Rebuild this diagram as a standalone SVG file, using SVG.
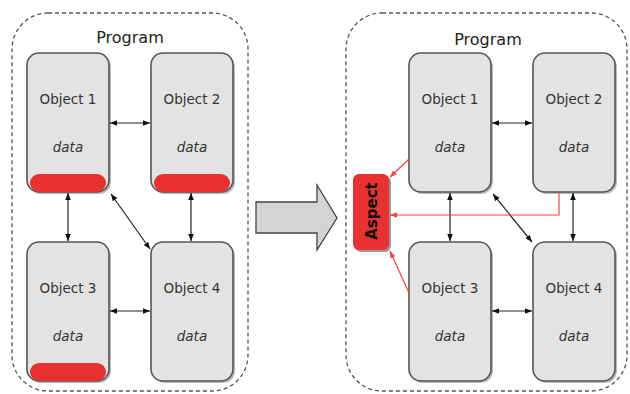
<svg xmlns="http://www.w3.org/2000/svg" width="630" height="394" viewBox="0 0 630 394">
<style>
.cont{fill:#fff;stroke:#555;stroke-width:1.3;stroke-dasharray:4 3}
.box{fill:#e3e3e3;stroke:#555;stroke-width:1.6}
.shadow{fill:#bbb}
.bar{fill:#e83232}
.title{font-family:"DejaVu Sans",Verdana,sans-serif;font-size:16px;fill:#222;text-anchor:middle}
.lbl{font-family:"DejaVu Sans",Verdana,sans-serif;font-size:13.5px;fill:#333;text-anchor:middle}
.dat{font-family:"DejaVu Sans",Verdana,sans-serif;font-size:13.5px;font-style:italic;fill:#333;text-anchor:middle}
.conn{stroke:#222;stroke-width:1.2;fill:none;marker-start:url(#ah);marker-end:url(#ah)}
.red{stroke:#f04545;stroke-width:1.2;fill:none;marker-end:url(#rh)}
</style>
<defs>
<marker id="ah" viewBox="0 0 10 10" refX="10" refY="5" markerWidth="7" markerHeight="7" markerUnits="userSpaceOnUse" orient="auto-start-reverse"><path d="M0,1 L10,5 L0,9 Z" fill="#111"/></marker>
<marker id="rh" viewBox="0 0 10 10" refX="10" refY="5" markerWidth="7" markerHeight="7" markerUnits="userSpaceOnUse" orient="auto"><path d="M0,1 L10,5 L0,9 Z" fill="#f04545"/></marker>
</defs>
<rect width="630" height="394" fill="#fff"/>

<g id="left-program">
<rect class="cont" x="12" y="13" width="236" height="378" rx="36"/>
<text class="title" x="130" y="43">Program</text>
</g>
<g id="right-program">
<rect class="cont" x="346" y="13" width="281" height="378" rx="36"/>
<text class="title" x="488" y="45">Program</text>
</g>

<g id="L-obj1">
<rect class="shadow" x="29" y="55" width="82" height="139" rx="12"/>
<rect class="box" x="27" y="53" width="82" height="139" rx="12"/>
<rect class="bar" x="30" y="174" width="76" height="18" rx="9"/>
<text class="lbl" x="68" y="104">Object 1</text>
<text class="dat" x="68" y="152">data</text>
</g>
<g id="L-obj2">
<rect class="shadow" x="153" y="55" width="82" height="139" rx="12"/>
<rect class="box" x="151" y="53" width="82" height="139" rx="12"/>
<rect class="bar" x="154" y="174" width="76" height="18" rx="9"/>
<text class="lbl" x="192" y="104">Object 2</text>
<text class="dat" x="192" y="152">data</text>
</g>
<g id="L-obj3">
<rect class="shadow" x="29" y="244" width="82" height="139" rx="12"/>
<rect class="box" x="27" y="242" width="82" height="139" rx="12"/>
<rect class="bar" x="30" y="363" width="76" height="18" rx="9"/>
<text class="lbl" x="68" y="293">Object 3</text>
<text class="dat" x="68" y="341">data</text>
</g>
<g id="L-obj4">
<rect class="shadow" x="153" y="244" width="82" height="139" rx="12"/>
<rect class="box" x="151" y="242" width="82" height="139" rx="12"/>
<text class="lbl" x="192" y="293">Object 4</text>
<text class="dat" x="192" y="341">data</text>
</g>

<g id="transform-arrow">
<path d="M256,202 L317,202 L317,185 L337,218 L317,250 L317,233 L256,233 Z" fill="#d4d4d4" stroke="#444" stroke-width="1.3" stroke-linejoin="miter"/>
</g>

<g id="R-obj1">
<rect class="shadow" x="411" y="55" width="82" height="139" rx="12"/>
<rect class="box" x="409" y="53" width="82" height="139" rx="12"/>
<text class="lbl" x="450" y="104">Object 1</text>
<text class="dat" x="450" y="152">data</text>
</g>
<g id="R-obj2">
<rect class="shadow" x="535" y="55" width="82" height="139" rx="12"/>
<rect class="box" x="533" y="53" width="82" height="139" rx="12"/>
<text class="lbl" x="574" y="104">Object 2</text>
<text class="dat" x="574" y="152">data</text>
</g>
<g id="R-obj3">
<rect class="shadow" x="411" y="244" width="82" height="139" rx="12"/>
<rect class="box" x="409" y="242" width="82" height="139" rx="12"/>
<text class="lbl" x="450" y="293">Object 3</text>
<text class="dat" x="450" y="341">data</text>
</g>
<g id="R-obj4">
<rect class="shadow" x="535" y="244" width="82" height="139" rx="12"/>
<rect class="box" x="533" y="242" width="82" height="139" rx="12"/>
<text class="lbl" x="574" y="293">Object 4</text>
<text class="dat" x="574" y="341">data</text>
</g>
<g id="aspect">
<rect x="355" y="176" width="36" height="76" rx="6" fill="#999"/>
<rect x="353" y="174" width="36" height="76" rx="6" fill="#e83232"/>
<text x="0" y="0" transform="translate(376.5,211) rotate(-90)" font-family="'DejaVu Sans',Verdana,sans-serif" font-size="15" font-weight="bold" fill="#111" text-anchor="middle">Aspect</text>
</g>

<g id="connectors">
<line class="conn" x1="110" y1="123" x2="150" y2="123"/>
<line class="conn" x1="68" y1="193" x2="68" y2="241"/>
<line class="conn" x1="191" y1="193" x2="191" y2="241"/>
<line class="conn" x1="110" y1="311" x2="150" y2="311"/>
<line class="conn" x1="111" y1="194" x2="150" y2="249"/>
<line class="conn" x1="492" y1="123" x2="532" y2="123"/>
<line class="conn" x1="450" y1="193" x2="450" y2="241"/>
<line class="conn" x1="573" y1="193" x2="573" y2="241"/>
<line class="conn" x1="492" y1="311" x2="532" y2="311"/>
<line class="conn" x1="493" y1="194" x2="532" y2="242"/>
<line class="red" x1="409" y1="159" x2="390" y2="177"/>
<polyline class="red" points="559,193 559,215 390,215"/>
<line class="red" x1="409" y1="293" x2="390" y2="251"/>
</g>
</svg>
